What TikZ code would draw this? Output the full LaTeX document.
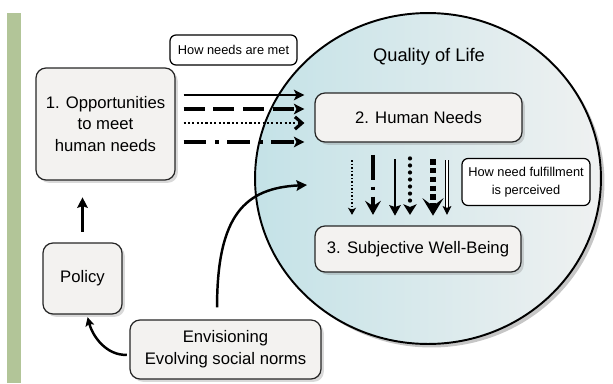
\documentclass[tikz,border=0pt]{standalone}
\usepackage{fontspec}
\setmainfont{Liberation Sans}
\usetikzlibrary{arrows.meta,shapes.geometric,shadows}

\definecolor{barGreen}{HTML}{B2C598}
\definecolor{qolLeft}{HTML}{C4E2E7}
\definecolor{qolRight}{HTML}{EFF1F1}
\definecolor{boxFill}{HTML}{F3F2F0}

\begin{document}
\begin{tikzpicture}[x=0.02cm, y=-0.02cm,
    box/.style={draw=black!85, fill=boxFill, rounded corners=0.2cm, line width=0.7pt,
      align=center, font=\fontsize{9.5}{12.5}\selectfont,
      drop shadow={shadow xshift=1.6pt, shadow yshift=-1.6pt, opacity=0.3}},
    tag/.style={draw=black, fill=white, rounded corners=0.12cm, line width=0.7pt,
      align=center, font=\fontsize{7.3}{10.5}\selectfont},
    hsolid/.style={line width=1.6pt, -{Stealth[length=6pt,width=6pt,inset=1.5pt]}},
    hdash/.style={line width=2.3pt, dash pattern=on 12pt off 5pt, -{Stealth[length=6pt,width=6pt,inset=1.5pt]}},
    hdot/.style={line width=1.3pt, dash pattern=on 1.2pt off 1.3pt, -{Straight Barb[length=4pt,width=7pt,line width=1.8pt]}},
    hdashdot/.style={line width=2pt, dash pattern=on 13pt off 5pt on 2pt off 5pt, -{Stealth[length=6pt,width=6pt,inset=1.5pt]}},
  ]
  \useasboundingbox (0,0) rectangle (613,383);
  \fill[barGreen] (7,13) rectangle (21,383);

  % quality of life circle
  \node[ellipse, draw, line width=1.1pt, inner sep=0pt,
    minimum width=6.92cm, minimum height=6.62cm,
    left color=qolLeft, right color=qolRight,
    drop shadow={shadow xshift=2pt, shadow yshift=-2pt, opacity=0.45}] (qol) at (428,178.5) {};
  \node[font=\fontsize{10.4}{12}\selectfont] (qoltitle) at (429,57) {Quality of Life};

  \node[box, minimum width=2.78cm, minimum height=2.24cm] (opp) at (105.5,124) {1. Opportunities\\to meet\\human needs};
  \node[box, minimum width=4.14cm, minimum height=0.98cm] (needs) at (418.5,117.5) {2. Human Needs};
  \node[box, minimum width=4.12cm, minimum height=0.92cm] (swb) at (418,249) {3. Subjective Well-Being};
  \node[box, minimum width=1.58cm, minimum height=1.42cm] (policy) at (82.5,278.5) {Policy};
  \node[box, minimum width=3.82cm, minimum height=1.18cm] (envis) at (225.5,349.5) {Envisioning\\Evolving social norms};

  \node[tag, minimum width=2.54cm, minimum height=0.6cm] (metlbl) at (233.5,50) {How needs are met};
  \node[tag, minimum width=2.56cm, minimum height=0.94cm] (perclbl) at (526,182) {How need fulfillment\\is perceived};

  % how needs are met
  \draw[hsolid, shorten <=4.5pt, shorten >=5.7pt] (opp.east |- 0,95) -- (needs.west |- 0,95);
  \draw[hdash, shorten <=4.5pt, shorten >=5.7pt] (opp.east |- 0,109) -- (needs.west |- 0,109);
  \draw[hdot, shorten <=4.5pt, shorten >=5.7pt] (opp.east |- 0,123) -- (needs.west |- 0,123);
  \draw[hdashdot, shorten <=4.5pt, shorten >=5.7pt] (opp.east |- 0,142) -- (needs.west |- 0,142);

  % how need fulfillment is perceived
  \draw[line width=0.8pt, dash pattern=on 0.8pt off 1.2pt, shorten <=10pt, shorten >=6pt,
    -{Stealth[length=4pt,width=4.5pt,inset=1pt]}] (needs.south -| 352,0) -- (swb.north -| 352,0);
  \draw[line width=2.2pt, dash pattern=on 14pt off 4pt on 1.8pt off 4pt, shorten <=7pt, shorten >=6pt,
    -{Stealth[length=8pt,width=9pt,inset=3pt]}] (needs.south -| 373,0) -- (swb.north -| 373,0);
  \draw[line width=1.6pt, shorten <=9.5pt, shorten >=5.5pt,
    -{Stealth[length=6pt,width=6.5pt,inset=1pt]}] (needs.south -| 395,0) -- (swb.north -| 395,0);
  \draw[line width=2.4pt, line cap=round, dash pattern=on 0pt off 4pt, shorten <=9pt, shorten >=6pt,
    -{Stealth[length=6pt,width=7.5pt,inset=1.5pt]}] (needs.south -| 410,0) -- (swb.north -| 410,0);
  \draw[line width=3pt, dash pattern=on 3pt off 2pt, shorten <=9.5pt, shorten >=5.5pt,
    -{Stealth[length=10pt,width=12pt,inset=4.5pt]}] (needs.south -| 433,0) -- (swb.north -| 433,0);
  \draw[double, line width=0.6pt, double distance=1.3pt, shorten <=10pt, shorten >=6pt,
    -{Stealth[length=5pt,width=5pt,inset=1pt]}] (needs.south -| 447,0) -- (swb.north -| 447,0);

  % policy and norms
  \draw[line width=1.5pt, shorten <=6pt, shorten >=9.5pt,
    -{Stealth[length=6pt,width=6pt,inset=1pt]}] (policy.north) -- (policy.north |- opp.south);
  \draw[line width=1.4pt, shorten <=1.5pt, shorten >=1.5pt,
    -{Stealth[length=5pt,width=5pt,inset=1pt]}] ([yshift=-3pt]envis.west) to[out=182, in=-75] ([xshift=2.5pt]policy.south);
  \coordinate (qolin) at (307,185);
  \draw[line width=1.4pt, shorten <=6.8pt,
    -{Stealth[length=6pt,width=6pt,inset=1pt]}] ([xshift=-4.8pt]envis.north) .. controls (217,215) and (245,188) .. (qolin);
\end{tikzpicture}
\end{document}
